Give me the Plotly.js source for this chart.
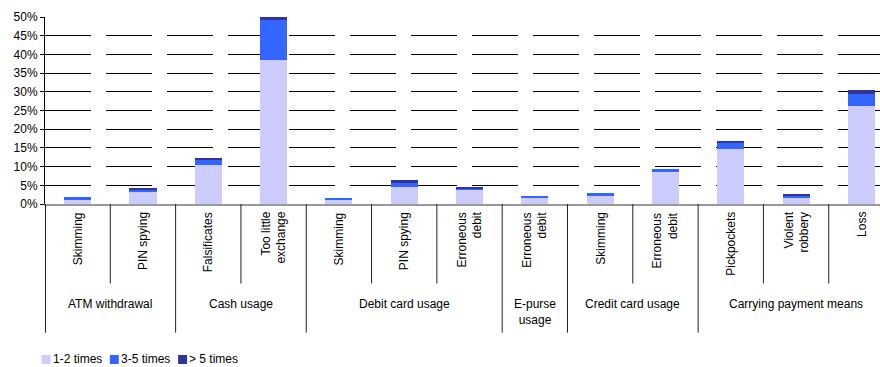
<!DOCTYPE html>
<html>
<head>
<meta charset="utf-8">
<script src="https://cdn.plot.ly/plotly-3.0.1.min.js"></script>
<style>html,body{margin:0;padding:0;background:#fff;}#chart{width:880px;height:367px;}</style>
</head>
<body>
<div id="chart"></div>
<script>
// ---- data ----
const groupLabels = ["ATM withdrawal", "Cash usage", "Debit card usage", "E-purse<br>usage", "Credit card usage", "Carrying payment means"];
const groupSizes  = [2, 2, 3, 1, 2, 3];
const subLabels   = ["Skimming", "PIN spying", "Falsificates", "Too little<br>exchange", "Skimming", "PIN spying", "Erroneous<br>debit", "Erroneous<br>debit", "Skimming", "Erroneous<br>debit", "Pickpockets", "Violent<br>robbery", "Loss"];
const times1to2   = [1.1, 3.1, 10.5, 38.5, 1.0, 4.5, 3.8, 1.5, 2.1, 8.5, 14.7, 1.5, 26.2];
const times3to5   = [0.8, 0.6, 1.2, 10.7, 0.5, 1.0, 0.3, 0.6, 0.8, 0.8, 1.6, 0.6, 3.2];
const timesOver5  = [0.0, 0.5, 0.6, 1.4, 0.0, 0.9, 0.4, 0.0, 0.0, 0.0, 0.5, 0.5, 1.1];
const seriesNames = ["1-2 times", "3-5 times", "> 5 times"];
const yTickVals   = [0, 5, 10, 15, 20, 25, 30, 35, 40, 45, 50];

// ---- build ----
const W = 880, H = 367;
const M = {l: 45, r: 0, t: 17, b: 163};
const plotW = W - M.l - M.r, plotH = H - M.t - M.b;
const px2x = px => (px - M.l) / plotW;
const py2y = py => (H - M.b - py) / plotH;

const xs = subLabels.map((_, i) => i);
const colors = ["#CCCCFF", "#3366FF", "#333399"];
const series = [times1to2, times3to5, timesOver5];
const traces = series.map((vals, k) => ({
  type: "bar", x: xs, y: vals, name: seriesNames[k],
  marker: {color: colors[k], line: {width: 0}},
  hoverinfo: "skip", showlegend: false, cliponaxis: false
}));

const FONT = "Liberation Sans, Arial, sans-serif";
const annotations = [];
const shapes = [];

subLabels.forEach((lab, i) => {
  annotations.push({
    xref: "x", yref: "paper", x: i, y: 0, yshift: -6,
    text: lab, textangle: -90, showarrow: false,
    xanchor: "center", yanchor: "top", align: "right",
    font: {family: FONT, size: 12, color: "#000"}
  });
});

let start = 0;
groupLabels.forEach((g, gi) => {
  const n = groupSizes[gi];
  const center = start + (n - 1) / 2;
  annotations.push({
    xref: "x", yref: "paper", x: center, y: 0, yshift: -91,
    text: g, showarrow: false, xanchor: "center", yanchor: "top", align: "center",
    font: {family: FONT, size: 12, color: "#000"}
  });
  shapes.push({type: "line", xref: "x", yref: "paper", x0: start - 0.5, x1: start - 0.5,
    y0: 0, y1: -0.688, line: {color: "#222", width: gi === 0 ? 2 : 1}});
  for (let j = 1; j < n; j++) {
    shapes.push({type: "line", xref: "x", yref: "paper", x0: start + j - 0.5, x1: start + j - 0.5,
      y0: 0, y1: -0.425, line: {color: "#222", width: 1}});
  }
  start += n;
});

// compact legend (swatch + label) below the chart
const legY = 358.5, legX0 = 41.5, legStep = 68.3, sw = 9;
seriesNames.forEach((nm, k) => {
  const x0 = legX0 + k * legStep;
  shapes.push({type: "rect", xref: "paper", yref: "paper",
    x0: px2x(x0), x1: px2x(x0 + sw), y0: py2y(legY + 1 + sw / 2), y1: py2y(legY + 1 - sw / 2),
    fillcolor: colors[k], line: {width: 0}});
  annotations.push({xref: "paper", yref: "paper", x: px2x(x0 + sw + 1), y: py2y(legY),
    xanchor: "left", yanchor: "middle", showarrow: false, text: nm, borderpad: 0,
    font: {family: FONT, size: 12, color: "#000"}});
});

const layout = {
  width: W, height: H,
  margin: {l: M.l, r: M.r, t: M.t, b: M.b, pad: 0, autoexpand: false},
  paper_bgcolor: "#fff", plot_bgcolor: "#fff",
  barmode: "stack", bargap: 0.585,
  font: {family: FONT, size: 12, color: "#000"},
  showlegend: false,
  xaxis: {
    range: [-0.5, 12.285], showticklabels: false, ticks: "",
    showgrid: false, zeroline: false,
    showline: true, linecolor: "#999", linewidth: 2, fixedrange: true
  },
  yaxis: {
    range: [0, 50], tickvals: yTickVals, ticktext: yTickVals.map(v => v + "%"),
    ticks: "outside", ticklen: 4, tickcolor: "#000",
    showline: true, linecolor: "#000", linewidth: 1,
    showgrid: true, gridcolor: "#000", gridwidth: 1, griddash: "46px,15px",
    zeroline: false, tickfont: {family: FONT, size: 12, color: "#000"}, fixedrange: true
  },
  annotations: annotations,
  shapes: shapes
};

Plotly.newPlot("chart", traces, layout, {staticPlot: true, displayModeBar: false});
</script>
</body>
</html>
